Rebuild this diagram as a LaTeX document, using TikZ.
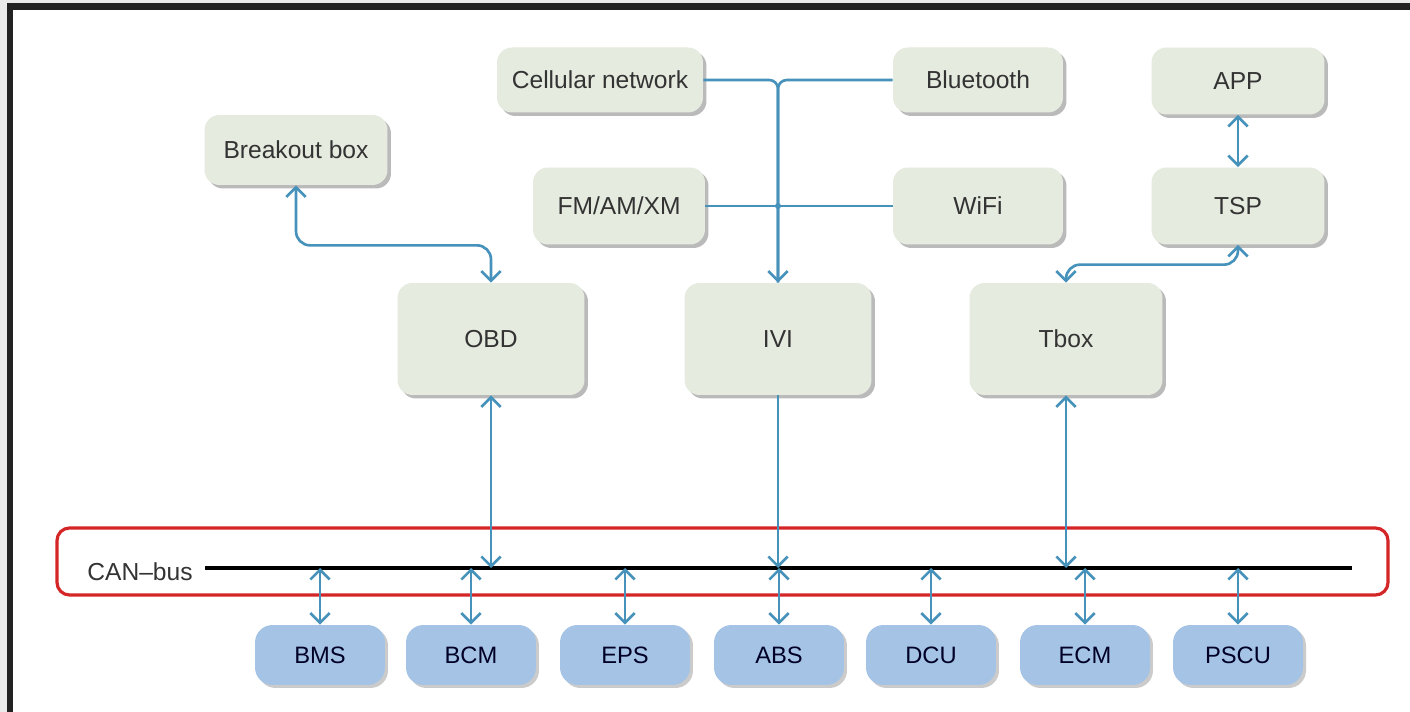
\documentclass[tikz,border=0pt]{standalone}
\usepackage{fontspec}
\setsansfont{Liberation Sans}
\usetikzlibrary{arrows.meta,shadows}

\definecolor{boxgreen}{RGB}{229,235,223}
\definecolor{ecublue}{RGB}{164,195,229}
\definecolor{linkblue}{RGB}{70,146,186}
\definecolor{busred}{RGB}{212,38,38}
\definecolor{framegray}{RGB}{34,34,34}

\begin{document}
\begin{tikzpicture}[x=0.02cm, y=-0.02cm,
  >={Straight Barb[length=5.5pt,width=11pt]},
  unit/.style={fill=boxgreen, rounded corners=0.3cm, inner sep=0pt,
    font=\sffamily\fontsize{14}{17}\selectfont, text=black!80,
    drop shadow={shadow xshift=0.07cm, shadow yshift=-0.07cm, fill=black!45, opacity=0.6}},
  ecu/.style={fill=ecublue, rounded corners=0.35cm, inner sep=0pt,
    minimum width=2.6cm, minimum height=1.2cm,
    font=\sffamily\fontsize{13.5}{16}\selectfont, text=black!75!blue!60!black,
    drop shadow={shadow xshift=0.06cm, shadow yshift=-0.06cm, fill=black!40, opacity=0.5}},
  link/.style={draw=linkblue, line width=1.5pt}]

\useasboundingbox (0,0) rectangle (1410,712);
\fill[black!8] (0,0) rectangle (1410,712);
\fill[framegray] (7,3) rectangle (1410,712);
\fill[white] (13,10) rectangle (1410,712);

% top row
\node[unit, minimum width=4.12cm, minimum height=1.3cm]  (cell) at (600,80)  {Cellular network};
\node[unit, minimum width=3.4cm,  minimum height=1.3cm]  (bt)   at (978,80)  {Bluetooth};
\node[unit, minimum width=3.46cm, minimum height=1.34cm] (app)  at (1238,81) {APP};
\node[unit, minimum width=3.66cm, minimum height=1.4cm]  (brk)  at (296,150) {Breakout box};
\node[unit, minimum width=3.44cm, minimum height=1.54cm] (fm)   at (619,206) {FM/AM/XM};
\node[unit, minimum width=3.4cm,  minimum height=1.54cm] (wifi) at (978,206) {WiFi};
\node[unit, minimum width=3.46cm, minimum height=1.54cm] (tsp)  at (1238,206) {TSP};

% middle row
\node[unit, minimum width=3.74cm, minimum height=2.24cm] (obd)  at (491,339)  {OBD};
\node[unit, minimum width=3.74cm, minimum height=2.24cm] (ivi)  at (778,339)  {IVI};
\node[unit, minimum width=3.86cm, minimum height=2.24cm] (tbox) at (1066,339) {Tbox};

% CAN-bus
\draw[busred, line width=1.8pt, rounded corners=0.25cm] (57,528) rectangle (1388,595);
\node[font=\sffamily\fontsize{14}{17}\selectfont, text=black!80] (canlbl) at (140,572) {CAN--bus};
\coordinate (busL) at (205,568);
\coordinate (busR) at (1352,568);
\draw[black, line width=2.5pt] (busL) -- (busR);

% ECUs
\node[ecu] (bms)  at (320,655)  {BMS};
\node[ecu] (bcm)  at (471,655)  {BCM};
\node[ecu] (eps)  at (625,655)  {EPS};
\node[ecu] (abs)  at (779,655)  {ABS};
\node[ecu] (dcu)  at (931,655)  {DCU};
\node[ecu] (ecm)  at (1085,655) {ECM};
\node[ecu] (pscu) at (1238,655) {PSCU};

\foreach \e in {bms,bcm,eps,abs,dcu,ecm,pscu}
  \draw[link,<->] (\e.north |- busL) -- (\e.north);

% links to the bus
\draw[link,<->] (obd.south) -- (obd.south |- busL);
\draw[link,->]  (ivi.south) -- (ivi.south |- busL);
\draw[link,<->] (tbox.south) -- (tbox.south |- busL);

% wireless side
\draw[link, rounded corners=5pt] (cell.east) -| (ivi.north);
\draw[link, rounded corners=5pt, ->] (bt.west) -| (ivi.north);
\draw[link] (fm.east) -- (wifi.west);
\fill[linkblue] (fm.east -| ivi.north) circle (3);

\draw[link,<->, rounded corners=8pt] (brk.south) -- ++(0,60) -| (obd.north);
\draw[link,<->, rounded corners=8pt] (tbox.north) -- ++(0,-18) -| (tsp.south);
\draw[link,<->] (app.south) -- (tsp.north);

\end{tikzpicture}
\end{document}
